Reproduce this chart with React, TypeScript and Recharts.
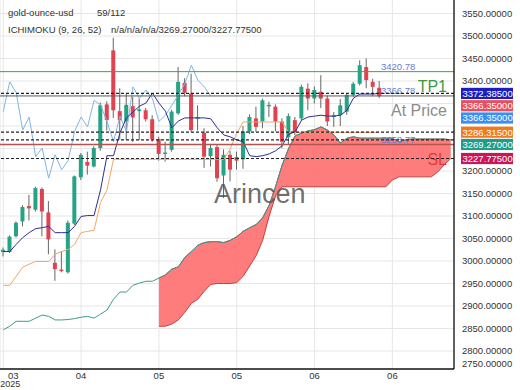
import React from 'react';
import { ComposedChart, Bar, Line, Area, XAxis, YAxis, CartesianGrid, ReferenceLine } from 'recharts';

const symbolName = 'gold-ounce-usd';
const barCounter = '59/112';
const indicatorName = 'ICHIMOKU (9, 26, 52)';
const watermark = 'Arincen';

// candles, one per slot
const opens = [
  3020, 3020, 3055, 3088, 3122, 3114, 3160, 3108, 2996, 2981,
  2975, 3083, 3186, 3220, 3210, 3251, 3348, 3468, 3333, 3310,
  3344, 3333, 3335, 3315, 3271, 3238, 3247, 3328, 3396, 3372,
  3316, 3285, 3233, 3253, 3190, 3236, 3231, 3226, 3288, 3317,
  3310, 3345, 3343, 3310, 3275, 3313, 3317, 3383, 3361, 3376,
  3361, 3320, 3324, 3332, 3369, 3394, 3431, 3398, 3385,
];
const highs = [
  3030, 3057, 3088, 3124, 3147, 3165, 3163, 3133, 3026, 3022,
  3090, 3190, 3240, 3243, 3255, 3352, 3355, 3496, 3384, 3372,
  3365, 3361, 3340, 3324, 3276, 3265, 3336, 3431, 3406, 3416,
  3346, 3295, 3258, 3258, 3248, 3245, 3243, 3300, 3326, 3343,
  3361, 3354, 3348, 3317, 3328, 3320, 3392, 3395, 3388, 3413,
  3368, 3331, 3360, 3372, 3398, 3446, 3450, 3405, 3400,
];
const lows = [
  3010, 3018, 3052, 3077, 3090, 3110, 3055, 3015, 2956, 2975,
  2972, 3080, 3180, 3192, 3208, 3245, 3290, 3318, 3270, 3269,
  3265, 3269, 3310, 3265, 3223, 3221, 3243, 3325, 3366, 3287,
  3290, 3207, 3210, 3176, 3140, 3177, 3203, 3205, 3282, 3287,
  3295, 3320, 3288, 3251, 3258, 3280, 3312, 3335, 3350, 3340,
  3300, 3298, 3300, 3325, 3365, 3390, 3384, 3366, 3362,
];
const closes = [
  3025, 3054, 3085, 3120, 3117, 3162, 3110, 3048, 2982, 2978,
  3085, 3188, 3236, 3212, 3251, 3346, 3313, 3335, 3313, 3347,
  3319, 3337, 3315, 3271, 3238, 3241, 3332, 3398, 3374, 3291,
  3320, 3232, 3251, 3184, 3236, 3203, 3223, 3288, 3320, 3298,
  3357, 3347, 3310, 3265, 3322, 3287, 3387, 3361, 3380, 3361,
  3310, 3324, 3346, 3369, 3394, 3435, 3402, 3387, 3366.35,
];

// ichimoku lines
const tenkanSen = [
  3021, 3021, 3037, 3052, 3063, 3072, 3074, 3077, 3063, 3063,
  3063, 3077, 3099, 3101, 3101, 3158, 3234, 3234, 3285, 3318,
  3331, 3344, 3351, 3373, 3351, 3333, 3296, 3311, 3318, 3318,
  3318, 3318, 3316, 3296, 3280, 3276, 3269, 3265, 3234, 3232,
  3234, 3238, 3245, 3256, 3282, 3287, 3313, 3320, 3322, 3324,
  3322, 3322, 3324, 3335, 3362, 3371, 3371, 3371, 3372.385,
];
const kijunSen = [
  2946, 2946, 2966, 2986, 2993, 2999, 2999, 2999, 3015, 3021,
  3026, 3037, 3063, 3066, 3068, 3130, 3158, 3226, 3226, 3226,
  3226, 3226, 3226, 3226, 3226, 3226, 3226, 3226, 3226, 3226,
  3226, 3226, 3226, 3226, 3226, 3249, 3284, 3309, 3309, 3309,
  3309, 3309, 3309, 3309, 3286, 3286, 3286, 3286, 3286, 3286,
  3286, 3286, 3286, 3286, 3286, 3286, 3286, 3286, 3286.315,
];
const chikouSpan = [
  3332, 3398, 3374, 3291, 3320, 3232, 3251, 3184, 3236, 3203,
  3223, 3288, 3320, 3298, 3357, 3347, 3310, 3265, 3322, 3287,
  3387, 3361, 3380, 3361, 3310, 3324, 3346, 3369, 3394, 3435,
  3402, 3387, 3366.35,
];
const senkouSpanA = [
  2847, 2855, 2866, 2866, 2866, 2873, 2880, 2877, 2869, 2869,
  2870, 2872, 2875, 2877, 2873, 2882, 2891, 2915, 2931, 2931,
  2946, 2951, 2955, 2955, 2962, 2969, 2982, 2987, 3008, 3021,
  3035, 3041, 3043, 3043, 3041, 3046, 3054, 3066, 3074, 3081,
  3096, 3124, 3166, 3213, 3250, 3278, 3284, 3289, 3292, 3298,
  3291, 3280, 3262, 3273, 3276, 3273, 3273, 3273, 3273, 3273,
  3273, 3265, 3269, 3271, 3271, 3271, 3271, 3271, 3271, 3269.27,
];
// span B starts at slot 24
const senkouSpanB = [
  2855, 2855, 2860, 2869, 2886, 2906, 2915, 2933, 2948, 2950,
  2950, 2950, 2952, 2966, 2989, 3012, 3046, 3100, 3145, 3165,
  3165, 3165, 3165, 3165, 3165, 3165, 3165, 3165, 3165, 3165,
  3165, 3165, 3165, 3165, 3165, 3165, 3180, 3187, 3187, 3187,
  3187, 3187, 3187, 3198, 3214, 3227.775,
];
const CLOUD_START = 24;
const SLOT_COUNT = 70;

const monthTicks = [0, 12, 24, 36, 48, 60];
const monthLabels = ['03', '04', '05', '05', '06', '06'];
const yearLabel = '2025';

const priceTicks = [2750, 2800, 2850, 2900, 2950, 3000, 3050, 3100, 3150, 3200, 3250, 3300, 3350, 3400, 3450, 3500, 3550];

// trade levels
const levelValues = [3420.78, 3366.78, 3258.77];
const levelNames = ['TP1', 'At Price', 'SL'];
const levelColors = ['#3f9a3f', '#8c8c8c', '#e2383f'];
const levelLineColors = ['#4c9a4c', '#5a5a5a', '#b5544f'];

// price tags on the right
const tagValues = [3372.385, 3366.35, 3366.35, 3286.315, 3269.27, 3227.775];
const tagColors = ['#1e1ec0', '#e8505d', '#3a8ff0', '#f07b1c', '#1f9c8a', '#cf1455'];
const tagDashed = [true, false, false, true, true, true];

const W = 520;
const H = 390;
const PLOT_W = 454;
const PLOT_H = 369;
const Y_MIN = 2760;
const Y_MAX = 3580;
const FONT = "'Liberation Sans', Arial, sans-serif";

const GREEN = '#26a384';
const RED = '#e2424f';

const rows = Array.from({ length: SLOT_COUNT }, (_, i) => {
  const hasCandle = i < closes.length;
  const b = i - CLOUD_START;
  return {
    slot: i,
    range: hasCandle ? [lows[i], highs[i]] : null,
    open: opens[i],
    high: highs[i],
    low: lows[i],
    close: closes[i],
    tenkan: tenkanSen[i] ?? null,
    kijun: kijunSen[i] ?? null,
    chikou: chikouSpan[i] ?? null,
    spanA: senkouSpanA[i],
    cloud: b >= 0 ? [senkouSpanB[b], senkouSpanA[i]] : null,
  };
});

// stack the tags so they don't overlap
const yPixel = (v: number) => (PLOT_H * (Y_MAX - v)) / (Y_MAX - Y_MIN);
const tagCenters: number[] = [];
tagValues.forEach((v, k) => {
  const own = yPixel(v);
  tagCenters.push(k === 0 ? own : Math.max(own, tagCenters[k - 1] + 12.3));
});
const TAG_H = 11.2;

const Candle = (props: any) => {
  const { x, y, width, height, payload } = props;
  if (payload == null || payload.high == null) return null;
  const top = Math.min(y, y + height);
  const h = Math.abs(height);
  const k = h / (payload.high - payload.low || 1);
  const yo = top + (payload.high - payload.open) * k;
  const yc = top + (payload.high - payload.close) * k;
  const up = payload.close >= payload.open;
  const cx = x + width / 2;
  return (
    <g>
      <line x1={cx} x2={cx} y1={top} y2={top + h} stroke="#666" strokeWidth={1} />
      <rect x={x} y={Math.min(yo, yc)} width={width} height={Math.max(Math.abs(yo - yc), 1.5)} fill={up ? GREEN : RED} />
    </g>
  );
};

// tick labels sitting under a price tag are hidden, as the tags cover them
const PriceTick = (props: any) => {
  const { x, y, payload } = props;
  const covered = tagCenters.some((c) => Math.abs(c - y) < TAG_H - 1);
  if (covered) return null;
  return (
    <text x={x} y={Math.min(y, PLOT_H - 5)} dy={3.4} fontSize={9.5} fill="#333" fontFamily={FONT} textAnchor="start">
      {Number(payload.value).toFixed(5)}
    </text>
  );
};

const MonthTick = (props: any) => {
  const { x, payload } = props;
  const k = monthTicks.indexOf(Number(payload.value));
  if (k < 0) return null;
  const first = k === 0;
  return (
    <g>
      <text x={first ? x + 10 : x} y={PLOT_H + 9.5} fontSize={9.5} fill="#333" fontFamily={FONT} textAnchor="middle">
        {monthLabels[k]}
      </text>
      {first && (
        <text x={x - 3} y={PLOT_H + 18.2} fontSize={9} fill="#333" fontFamily={FONT} textAnchor="start">
          {yearLabel}
        </text>
      )}
    </g>
  );
};

const levelLabel = (k: number) => (props: any) => {
  const vb = props.viewBox;
  if (!vb) return null;
  return (
    <g>
      <text x={vb.x + 381} y={vb.y - 1.5} fontSize={9.5} fill="#6a7dd3" fontFamily={FONT}>
        {levelValues[k].toFixed(2)}
      </text>
      <text x={vb.x + 447} y={vb.y + 20} fontSize={16} fill={levelColors[k]} fontFamily={FONT} textAnchor="end">
        {levelNames[k]}
      </text>
    </g>
  );
};

const tagLabel = (k: number) => (props: any) => {
  const vb = props.viewBox;
  if (!vb) return null;
  const cy = vb.y + (tagCenters[k] - yPixel(tagValues[k]));
  const left = vb.x + vb.width + 7;
  return (
    <g>
      <rect x={left} y={cy - TAG_H / 2} width={52} height={TAG_H} fill={tagColors[k]} />
      <text x={left + 1.5} y={cy + 3.4} fontSize={9.5} fill="#fff" fontFamily={FONT}>
        {tagValues[k].toFixed(5)}
      </text>
    </g>
  );
};

export default function App() {
  const legendValues = `n/a/n/a/n/a/${senkouSpanA[senkouSpanA.length - 1].toFixed(5)}/${senkouSpanB[senkouSpanB.length - 1].toFixed(5)}`;
  return (
    <div style={{ position: 'absolute', left: 0, top: 0, width: W, height: H, background: '#fff' }}>
      <ComposedChart
        width={W}
        height={H}
        data={rows}
        margin={{ top: 0, right: 0, left: 0, bottom: 0 }}
        style={{ fontFamily: FONT }}
      >
        <CartesianGrid stroke="#e6e6e6" horizontalValues={priceTicks.slice(1)} />
        <XAxis
          dataKey="slot"
          type="category"
          ticks={monthTicks}
          interval={0}
          height={H - PLOT_H}
          tickLine={false}
          tickSize={0}
          axisLine={{ stroke: '#111', strokeWidth: 1.3 }}
          tick={<MonthTick />}
        />
        <YAxis
          orientation="right"
          type="number"
          domain={[Y_MIN, Y_MAX]}
          allowDataOverflow
          ticks={priceTicks}
          interval={0}
          width={W - PLOT_W}
          tickLine={false}
          tickSize={0}
          tickMargin={8}
          axisLine={{ stroke: '#111', strokeWidth: 1.3 }}
          tick={<PriceTick />}
        />
        <Line dataKey="spanA" stroke="#3d9c8f" strokeWidth={1} dot={false} activeDot={false} isAnimationActive={false} />
        <Area
          dataKey="cloud"
          type="linear"
          fill="#ff6e6e"
          fillOpacity={0.9}
          stroke="#c4403f"
          strokeWidth={1}
          isAnimationActive={false}
          activeDot={false}
        />
        <Line dataKey="chikou" stroke="#82b6e2" strokeWidth={1} dot={false} activeDot={false} isAnimationActive={false} />
        <Line dataKey="kijun" stroke="#f2a766" strokeWidth={1} dot={false} activeDot={false} isAnimationActive={false} />
        <Line dataKey="tenkan" stroke="#2e2e96" strokeWidth={1} dot={false} activeDot={false} isAnimationActive={false} />
        <Bar dataKey="range" barSize={4} shape={<Candle />} isAnimationActive={false} />
        {levelValues.map((v, k) => (
          <ReferenceLine
            key={`lvl-${k}`}
            y={v}
            stroke={levelLineColors[k]}
            strokeWidth={k === 2 ? 1.5 : 1}
            label={levelLabel(k)}
          />
        ))}
        {tagValues.map((v, k) => (
          <ReferenceLine
            key={`tag-${k}`}
            y={v}
            stroke={tagDashed[k] ? '#222' : 'none'}
            strokeWidth={1.2}
            strokeDasharray="3 2"
            label={tagLabel(k)}
          />
        ))}
      </ComposedChart>
      <svg width={W} height={H} style={{ position: 'absolute', left: 0, top: 0, pointerEvents: 'none' }}>
        <text x={8} y={16} fontSize={9.5} fill="#333" fontFamily={FONT}>{symbolName}</text>
        <text x={97} y={16} fontSize={9.5} fill="#333" fontFamily={FONT}>{barCounter}</text>
        <text x={8} y={32.7} fontSize={9.5} fill="#333" fontFamily={FONT}>{indicatorName}</text>
        <text x={111} y={32.7} fontSize={9.5} fill="#333" fontFamily={FONT}>{legendValues}</text>
        <text x={214} y={203} fontSize={27} fill="#555" fillOpacity={0.85} fontFamily={FONT}>{watermark}</text>
      </svg>
    </div>
  );
}
